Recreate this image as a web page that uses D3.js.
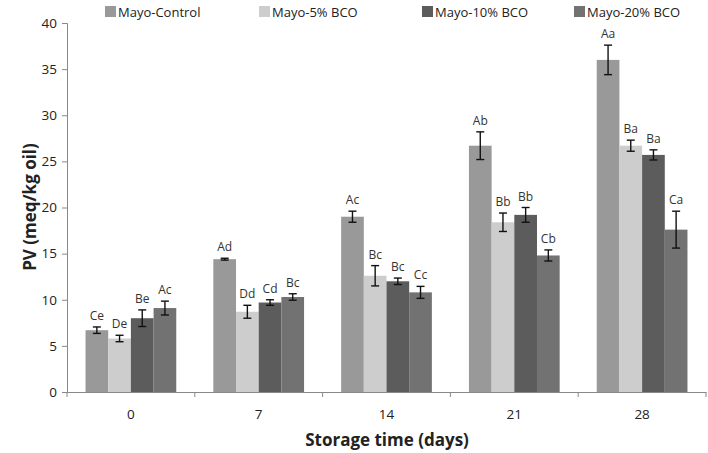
<!DOCTYPE html>
<html>
<head>
<meta charset="utf-8">
<script src="https://cdn.jsdelivr.net/npm/d3@7"></script>
<style>
  body { margin: 0; background: #fff; }
  text { font-family: "Open Sans", sans-serif; fill: #222; }
</style>
</head>
<body>
<div class="main"></div>
<script>
// storage days on the x axis
var days = ["0", "7", "14", "21", "28"];
var seriesNames = ["Mayo-Control", "Mayo-5% BCO", "Mayo-10% BCO", "Mayo-20% BCO"];
var seriesColors = ["#999999", "#cdcdcd", "#5c5c5c", "#727272"];

// PV values per series (one per day)
var pvControl = [6.7, 14.4, 19.0, 26.7, 36.0];
var pv5 = [5.8, 8.7, 12.6, 18.4, 26.7];
var pv10 = [8.0, 9.7, 12.0, 19.2, 25.7];
var pv20 = [9.1, 10.3, 10.8, 14.8, 17.6];

// standard deviations
var sdControl = [0.35, 0.1, 0.6, 1.5, 1.6];
var sd5 = [0.35, 0.7, 1.1, 1.0, 0.6];
var sd10 = [0.9, 0.3, 0.35, 0.8, 0.55];
var sd20 = [0.75, 0.35, 0.65, 0.6, 2.0];

// letters over the bars
var lblControl = ["Ce", "Ad", "Ac", "Ab", "Aa"];
var lbl5 = ["De", "Dd", "Bc", "Bb", "Ba"];
var lbl10 = ["Be", "Cd", "Bc", "Bb", "Ba"];
var lbl20 = ["Ac", "Bc", "Cc", "Cb", "Ca"];

var yTicks = [0, 5, 10, 15, 20, 25, 30, 35, 40];

var values = [pvControl, pv5, pv10, pv20];
var sds = [sdControl, sd5, sd10, sd20];
var labels = [lblControl, lbl5, lbl10, lbl20];

var width = 708, height = 453;
var svg = d3.select("div.main").append("svg")
  .attr("width", width)
  .attr("height", height);

var x = d3.scaleBand()
  .domain(days)
  .range([67, 706])
  .paddingInner(0.29)
  .paddingOuter(0.145);

var xs = d3.scaleBand()
  .domain(d3.range(seriesNames.length))
  .range([0, x.bandwidth()]);

var y = d3.scaleLinear()
  .domain([0, 40])
  .range([392, 23]);

// bars
var data = [];
days.forEach(function(d, i) {
  seriesNames.forEach(function(s, j) {
    data.push({ day: d, s: j, v: values[j][i], sd: sds[j][i], lbl: labels[j][i] });
  });
});

var g = svg.append("g");

g.selectAll("rect.bar")
  .data(data)
  .enter().append("rect")
  .attr("class", "bar")
  .attr("x", function(d) { return x(d.day) + xs(d.s); })
  .attr("y", function(d) { return y(d.v); })
  .attr("width", xs.bandwidth())
  .attr("height", function(d) { return y(0) - y(d.v); })
  .style("fill", function(d) { return seriesColors[d.s]; });

// error bars
var eb = g.selectAll("g.err")
  .data(data)
  .enter().append("g")
  .attr("class", "err")
  .attr("transform", function(d) { return "translate(" + (x(d.day) + xs(d.s) + xs.bandwidth() / 2) + ",0)"; });

eb.append("line")
  .attr("y1", function(d) { return y(d.v + d.sd); })
  .attr("y2", function(d) { return y(d.v - d.sd); })
  .attr("stroke", "#111").attr("stroke-width", 1.4);
eb.append("line")
  .attr("x1", -4).attr("x2", 4)
  .attr("y1", function(d) { return y(d.v + d.sd); })
  .attr("y2", function(d) { return y(d.v + d.sd); })
  .attr("stroke", "#111").attr("stroke-width", 1.4);
eb.append("line")
  .attr("x1", -4).attr("x2", 4)
  .attr("y1", function(d) { return y(d.v - d.sd); })
  .attr("y2", function(d) { return y(d.v - d.sd); })
  .attr("stroke", "#111").attr("stroke-width", 1.4);

eb.append("text")
  .attr("y", function(d) { return y(d.v + d.sd) - 7; })
  .attr("text-anchor", "middle")
  .style("font-size", "12px")
  .style("fill", "#333")
  .text(function(d) { return d.lbl; });

// y axis
var yAxis = svg.append("g")
  .attr("transform", "translate(67,0)")
  .call(d3.axisLeft(y).tickValues(yTicks).tickSize(5).tickSizeOuter(5));
yAxis.selectAll("text").style("font-size", "13.5px").style("fill", "#222").attr("dx", "-2");

// x axis
var xAxis = svg.append("g")
  .attr("transform", "translate(0,392)")
  .call(d3.axisBottom(x).tickSize(0).tickSizeOuter(0));
xAxis.selectAll("text").style("font-size", "13.5px").style("fill", "#222").attr("dy", "1.8em");
var bounds = d3.range(days.length + 1).map(function(i) {
  return i < days.length ? x(days[i]) - x.step() * x.paddingInner() / 2 : x.range()[1];
});
xAxis.selectAll("line.bound")
  .data(bounds)
  .enter().append("line")
  .attr("class", "bound")
  .attr("x1", function(d) { return d; })
  .attr("x2", function(d) { return d; })
  .attr("y1", 0).attr("y2", 5);

svg.selectAll(".domain, .tick line, line.bound").attr("stroke", "#888");

// axis titles
svg.append("text")
  .attr("transform", "translate(36,207) rotate(-90)")
  .attr("text-anchor", "middle")
  .style("font-size", "17px")
  .style("font-weight", "bold")
  .text("PV (meq/kg oil)");

svg.append("text")
  .attr("x", 387)
  .attr("y", 446)
  .attr("text-anchor", "middle")
  .style("font-size", "17px")
  .style("font-weight", "bold")
  .text("Storage time (days)");

// legend
var legX = [105, 259, 422, 574];
var legend = svg.selectAll("g.legend")
  .data(seriesNames)
  .enter().append("g")
  .attr("class", "legend")
  .attr("transform", function(d, i) { return "translate(" + legX[i] + ",6)"; });
legend.append("rect")
  .attr("width", 11).attr("height", 11)
  .style("fill", function(d, i) { return seriesColors[i]; });
legend.append("text")
  .attr("x", 13).attr("y", 10.5)
  .style("font-size", "13px")
  .text(function(d) { return d; });
</script>
</body>
</html>
